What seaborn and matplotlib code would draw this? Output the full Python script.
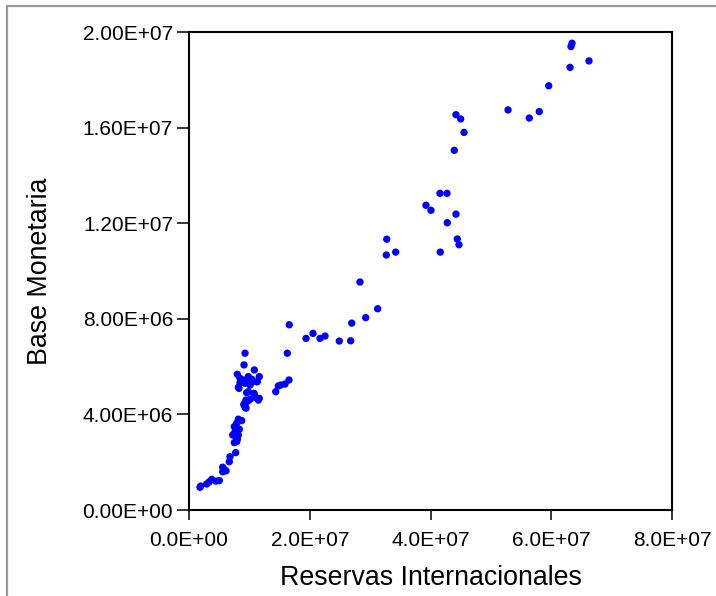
import matplotlib
matplotlib.use("Agg")
import matplotlib.pyplot as plt
from matplotlib.lines import Line2D
import pandas as pd
import seaborn as sns

# Reservas internacionales (x) y base monetaria (y), observaciones del periodo
reservas = [
    1.82e6, 1.94e6, 2.93e6, 3.36e6, 3.76e6, 4.47e6, 5.02e6, 5.58e6, 5.80e6, 6.13e6,
    5.58e6, 6.67e6, 6.79e6, 7.73e6, 7.50e6, 7.90e6, 8.00e6, 7.78e6, 7.24e6, 7.62e6,
    7.50e6, 7.90e6, 8.17e6, 8.73e6, 8.33e6, 8.17e6, 9.28e6, 9.11e6, 9.44e6, 9.82e6,
    10.10e6, 10.77e6, 10.93e6, 11.48e6, 11.64e6, 9.56e6, 9.82e6, 8.17e6, 8.45e6, 9.28e6,
    10.10e6, 10.55e6, 11.21e6, 14.36e6, 14.79e6, 9.28e6, 9.11e6, 10.82e6, 8.00e6, 8.45e6,
    8.99e6, 9.82e6, 10.39e6, 10.10e6, 11.64e6, 11.31e6, 8.28e6, 10.77e6, 9.44e6, 9.11e6,
    9.44e6, 16.28e6, 19.38e6, 15.19e6, 15.90e6, 16.56e6, 16.61e6, 20.54e6, 21.70e6, 22.53e6,
    24.89e6, 26.78e6, 26.95e6, 29.27e6, 31.25e6, 28.32e6, 32.75e6, 32.68e6, 34.24e6, 44.22e6,
    45.00e6, 45.55e6, 43.94e6, 41.57e6, 42.73e6, 39.25e6, 40.08e6, 44.22e6, 42.78e6, 41.62e6,
    44.44e6, 44.72e6, 52.84e6, 63.44e6, 63.27e6, 66.25e6, 63.11e6, 59.58e6, 56.36e6, 58.02e6,
]
base_monetaria = [
    0.95e6, 1.00e6, 1.09e6, 1.18e6, 1.28e6, 1.21e6, 1.23e6, 1.60e6, 1.70e6, 1.64e6,
    1.79e6, 2.02e6, 2.23e6, 2.40e6, 2.82e6, 2.86e6, 2.96e6, 3.07e6, 3.14e6, 3.28e6,
    3.49e6, 3.63e6, 3.80e6, 3.74e6, 3.38e6, 3.14e6, 4.30e6, 4.44e6, 4.49e6, 4.57e6,
    4.63e6, 4.85e6, 4.72e6, 4.60e6, 4.67e6, 4.91e6, 4.95e6, 5.13e6, 5.33e6, 5.30e6,
    5.23e6, 5.37e6, 5.37e6, 4.95e6, 5.19e6, 6.56e6, 6.07e6, 5.86e6, 5.68e6, 5.51e6,
    5.44e6, 5.58e6, 5.47e6, 5.37e6, 5.58e6, 5.37e6, 5.09e6, 4.88e6, 4.60e6, 4.39e6,
    4.26e6, 6.56e6, 7.18e6, 5.23e6, 5.27e6, 5.44e6, 7.75e6, 7.39e6, 7.18e6, 7.28e6,
    7.07e6, 7.08e6, 7.82e6, 8.05e6, 8.42e6, 9.54e6, 11.33e6, 10.67e6, 10.79e6, 16.54e6,
    16.36e6, 15.80e6, 15.05e6, 13.25e6, 13.25e6, 12.75e6, 12.54e6, 12.38e6, 12.02e6, 10.79e6,
    11.34e6, 11.10e6, 16.74e6, 19.53e6, 19.39e6, 18.79e6, 18.52e6, 17.75e6, 16.40e6, 16.67e6,
]

x_ticks = [0, 2e7, 4e7, 6e7, 8e7]
x_tick_labels = ["0.0E+00", "2.0E+07", "4.0E+07", "6.0E+07", "8.0E+07"]
y_ticks = [0, 4e6, 8e6, 1.2e7, 1.6e7, 2e7]
y_tick_labels = ["0.00E+00", "4.00E+06", "8.00E+06", "1.20E+07", "1.60E+07", "2.00E+07"]

df = pd.DataFrame({"Reservas Internacionales": reservas,
                   "Base Monetaria": base_monetaria})

sns.set_style("ticks")
plt.rcParams["font.family"] = ["Liberation Sans", "DejaVu Sans"]

fig = plt.figure(figsize=(7.16, 5.96), dpi=100)
ax = fig.add_axes([189 / 716, 86 / 596, 483 / 716, 478 / 596])

sns.scatterplot(data=df, x="Reservas Internacionales", y="Base Monetaria",
                ax=ax, color="#0000FF", s=28, edgecolor="none", linewidth=0,
                zorder=3, clip_on=False)

ax.set_xlim(0, 8e7)
ax.set_ylim(0, 2e7)
ax.set_xticks(x_ticks)
ax.set_xticklabels(x_tick_labels)
ax.set_yticks(y_ticks)
ax.set_yticklabels(y_tick_labels)

for side in ["left", "right", "top", "bottom"]:
    ax.spines[side].set_visible(True)
    ax.spines[side].set_linewidth(1.5)
    ax.spines[side].set_color("black")

ax.tick_params(axis="y", direction="out", length=8.5, width=1.1, pad=3,
               labelsize=15, colors="black", labelcolor="black")
ax.tick_params(axis="x", direction="out", length=7.5, width=1.1, pad=7.5,
               labelsize=15, colors="black", labelcolor="black")

ax.set_xlabel("Reservas Internacionales", fontsize=19.3, labelpad=11,
              color="black")
ax.set_ylabel("Base Monetaria", fontsize=19.3, labelpad=21, color="black")

# thin grey border around the graphic
fig.add_artist(Line2D([6.5 / 716, 6.5 / 716], [0, 1 - 5.5 / 596],
                      transform=fig.transFigure, color="#999999", linewidth=1.6))
fig.add_artist(Line2D([6.5 / 716, 1], [1 - 5.5 / 596, 1 - 5.5 / 596],
                      transform=fig.transFigure, color="#999999", linewidth=1.6))

fig.savefig("out.png", dpi=100)
